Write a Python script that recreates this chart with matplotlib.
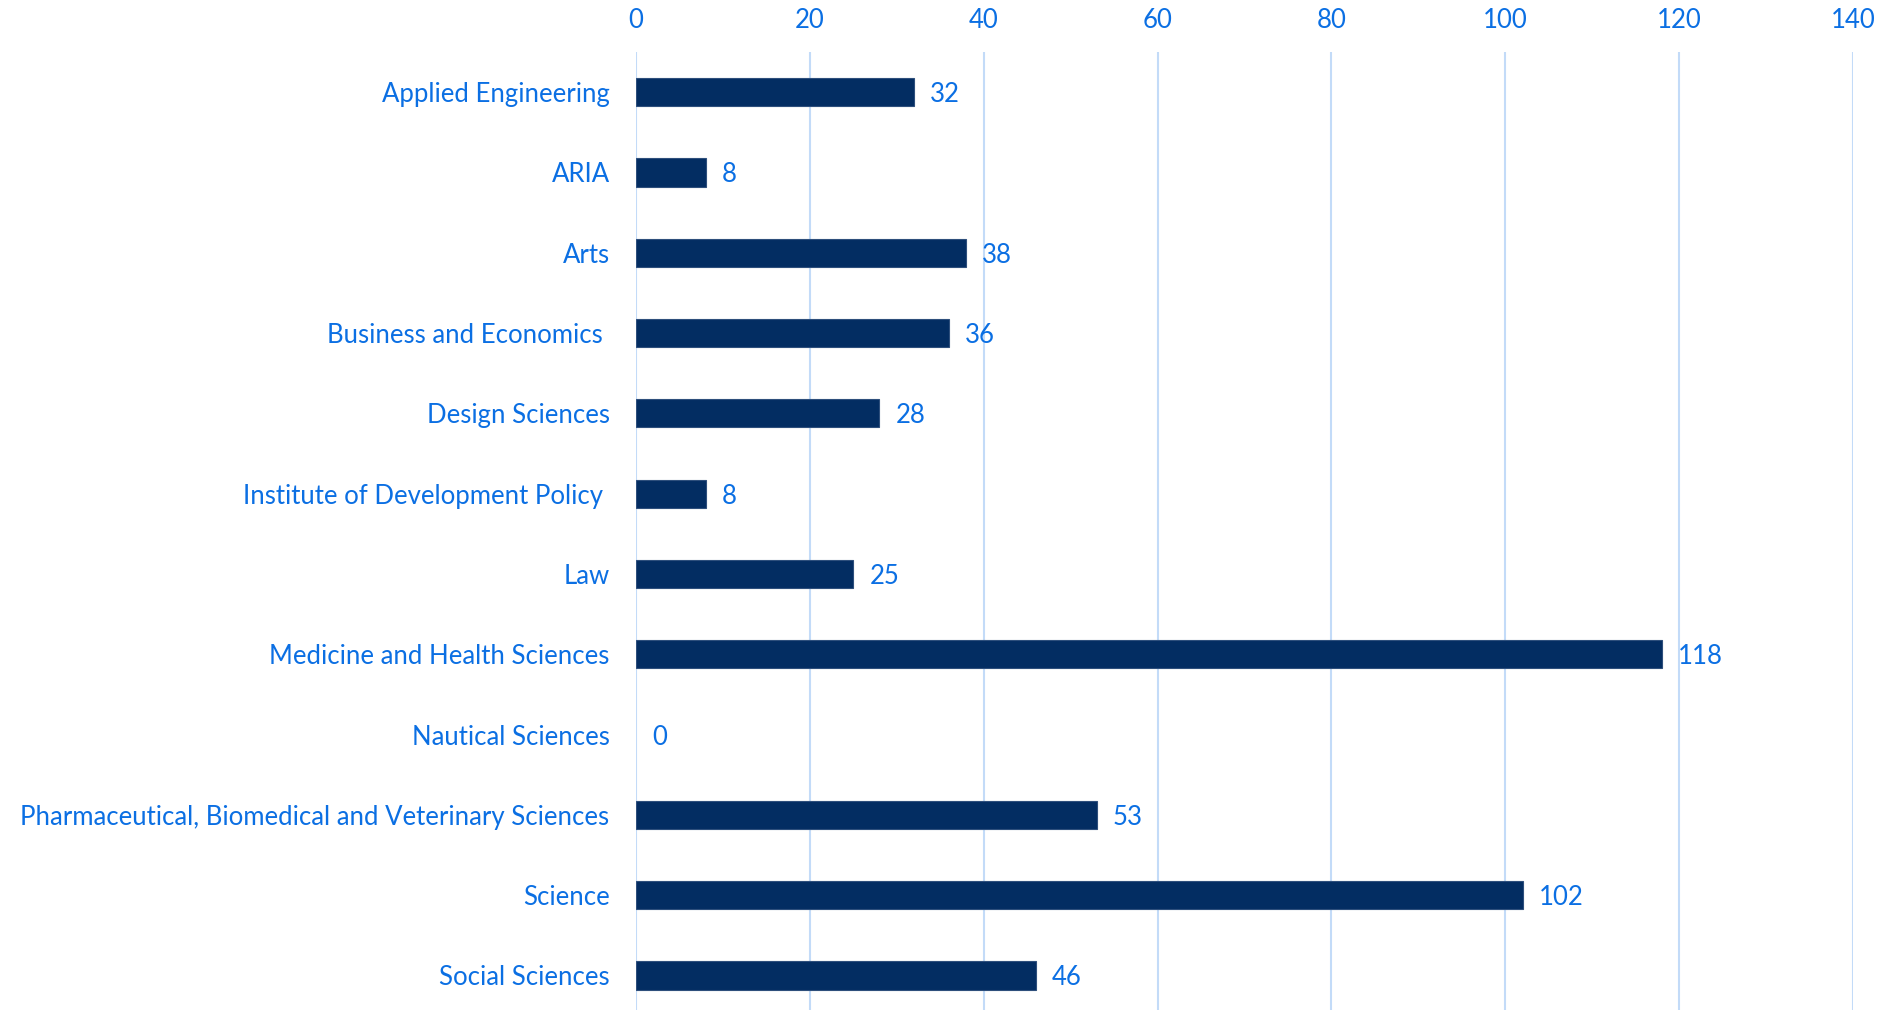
import matplotlib.pyplot as plt

# data
categories = ['Applied Engineering', 'ARIA', 'Arts', 'Business and Economics ',
              'Design Sciences', 'Institute of Development Policy ', 'Law',
              'Medicine and Health Sciences', 'Nautical Sciences',
              'Pharmaceutical, Biomedical and Veterinary Sciences', 'Science',
              'Social Sciences']
counts = [32, 8, 38, 36, 28, 8, 25, 118, 0, 53, 102, 46]
xticks = [0, 20, 40, 60, 80, 100, 120, 140]

bar_col = '#032D62'
text_col = '#0B6FE3'
grid_col = '#C3DBF8'
fs = 18.5

plt.rcParams['font.family'] = ['Lato', 'DejaVu Sans']

W, H = 1885, 1010
fig = plt.figure(figsize=(W / 100, H / 100), dpi=100)
ax = fig.add_axes([636 / W, 0, (1853 - 636) / W, (1010 - 52) / H])

ypos = list(range(len(categories)))
lw = [0.8 if v > 0 else 0 for v in counts]
ax.barh(ypos, counts, height=0.35, color=bar_col, edgecolor='#2E4F7C', linewidth=lw, zorder=3)

for y, v in zip(ypos, counts):
    ax.annotate(str(v), (v, y), xytext=(11.5, 0), textcoords='offset points',
                va='center_baseline', ha='left', fontsize=fs, color=text_col)

ax.set_xlim(0, 140)
ax.set_ylim(11.43, -0.5)
ax.set_xticks(xticks)
ax.set_yticks(ypos)
ax.set_yticklabels(categories, va='center_baseline')
ax.xaxis.tick_top()
ax.tick_params(axis='x', length=0, pad=14, labelsize=fs, labelcolor=text_col)
ax.tick_params(axis='y', length=0, pad=19, labelsize=fs, labelcolor=text_col)
ax.grid(axis='x', color=grid_col, linewidth=1.5, zorder=0)
for s in ax.spines.values():
    s.set_visible(False)

fig.savefig('out.png', dpi=100)
